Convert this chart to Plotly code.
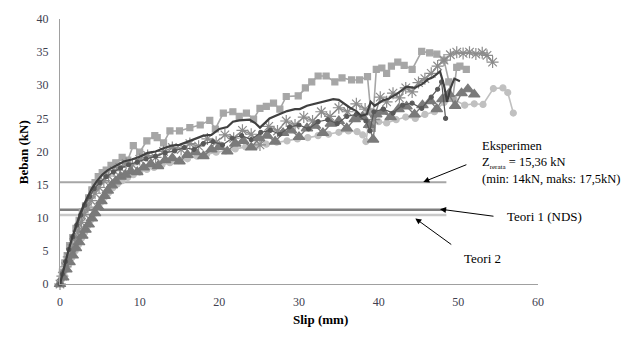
import plotly.graph_objects as go

# ---------------- data ----------------
sq_slip = [0, 0.3, 0.6, 0.9, 1.2, 1.6, 2.0, 2.4, 2.8, 3.2, 3.6, 4.0, 4.4, 4.8, 5.3, 5.8, 6.4, 7.0, 7.8, 8.5,
           9.2, 10.0, 10.9, 11.9, 12.2, 13.0, 13.8, 15.0, 16.3, 17.6, 18.8, 19.5, 20.5, 21.7, 22.5, 23.4, 24.3,
           25.1, 25.9, 26.8, 27.6, 28.4, 29.9, 30.8, 31.6, 32.4, 33.4, 34.5, 35.4, 36.6, 37.6, 38.6, 39.0, 39.2,
           39.7, 40.4, 41.0, 41.6, 42.4, 43.2, 44.2, 45.4, 46.4, 47.3, 48.2, 48.8, 49.3, 49.8, 50.2, 51.0]
sq_load = [0, 1.8, 3.2, 4.3, 5.8, 7.0, 8.4, 9.6, 10.9, 11.8, 13.0, 14.2, 15.3, 16.2, 16.8, 17.2, 17.9, 18.3, 19.1, 18.7,
           20.9, 19.9, 21.6, 22.4, 22.1, 21.3, 23.1, 23.1, 23.6, 24.0, 24.7, 23.4, 25.8, 26.0, 25.3, 25.8, 24.9,
           26.5, 26.8, 27.3, 26.4, 28.3, 28.4, 29.6, 30.5, 31.4, 31.4, 30.5, 31.1, 30.8, 30.8, 31.3, 26.0, 23.5,
           32.4, 32.6, 31.8, 32.9, 33.5, 33.0, 32.4, 35.1, 34.9, 34.7, 33.8, 30.5, 28.0, 32.7, 32.9, 32.4]

ast_slip = [0, 0.3, 0.7, 1.1, 1.5, 1.9, 2.3, 2.7, 3.1, 3.5, 3.9, 4.4, 4.9, 5.5, 6.1, 6.8, 7.5, 8.3, 9.1, 10.0,
            11.0, 12.0, 13.0, 14.1, 15.2, 16.3, 17.4, 18.5, 19.6, 20.7, 21.8, 22.9, 24.0, 25.1, 26.2, 27.3, 28.4,
            29.5, 30.6, 31.7, 32.8, 33.9, 35.0, 36.1, 37.2, 38.3, 39.4, 40.2, 41.0, 41.8, 42.6, 43.4, 44.2, 45.0,
            45.8, 46.6, 47.4, 48.2, 49.0, 49.8, 50.6, 51.4, 52.2, 53.0, 53.6, 54.3]
ast_load = [0, 1.2, 2.6, 4.1, 5.4, 6.8, 8.0, 9.3, 10.5, 11.6, 12.6, 13.7, 14.6, 15.6, 16.3, 17.1, 17.6, 18.2, 18.0, 18.8,
            19.4, 19.1, 20.0, 20.6, 20.3, 21.2, 20.8, 21.9, 21.4, 22.5, 22.0, 23.2, 22.6, 21.0, 23.8, 23.1, 24.6,
            24.0, 25.2, 24.6, 26.0, 25.3, 26.6, 26.0, 27.2, 26.4, 24.8, 28.2, 27.5, 28.8, 28.1, 29.6, 29.0, 30.4,
            31.0, 31.8, 32.9, 33.8, 34.6, 35.0, 34.8, 35.0, 34.7, 34.9, 34.5, 33.5]

dk_slip = [0, 0.5, 1.0, 1.5, 2.0, 2.5, 3.0, 3.5, 4.0, 4.6, 5.3, 6.0, 7.0, 8.0, 9.0, 10.0, 11.0, 12.0, 13.0, 14.0,
           15.0, 16.0, 17.0, 18.0, 19.0, 20.0, 21.0, 21.7, 22.5, 23.8, 24.5, 25.1, 25.8, 26.3, 27.3, 28.5, 29.5,
           30.1, 31.0, 32.2, 33.3, 34.3, 35.0, 35.5, 36.4, 37.2, 37.8, 38.5, 39.0, 39.5, 40.5, 41.3, 42.3, 43.5,
           44.5, 45.5, 46.2, 46.8, 47.7, 48.2, 48.6, 49.0, 49.5, 50.2]
dk_load = [0, 2.5, 4.8, 6.9, 8.8, 10.5, 12.0, 13.3, 14.4, 15.5, 16.5, 17.2, 17.9, 18.5, 18.8, 19.2, 19.8, 20.0, 20.5, 20.9,
           21.0, 21.5, 22.0, 22.4, 22.5, 23.4, 23.7, 24.5, 24.7, 24.8, 24.3, 23.6, 24.4, 25.0, 25.5, 26.1, 26.4,
           26.4, 26.9, 27.3, 27.6, 27.9, 27.8, 27.4, 26.6, 26.1, 25.4, 25.6, 27.5, 26.9, 27.7, 28.0, 28.7, 29.8,
           29.6, 30.2, 30.9, 31.2, 32.1, 30.0, 27.5, 29.5, 31.0, 30.6]

tri_slip = [0, 0.4, 0.8, 1.2, 1.6, 2.0, 2.4, 2.8, 3.2, 3.6, 4.0, 4.4, 4.8, 5.2, 5.6, 6.0, 6.5, 7.0, 7.6, 8.2,
            8.9, 9.7, 10.5, 11.4, 12.3, 13.2, 14.1, 15.0, 16.0, 17.0, 18.0, 19.0, 20.0, 21.0, 22.0, 23.0, 24.0,
            25.0, 26.0, 27.0, 28.0, 29.0, 30.0, 31.0, 32.0, 33.0, 34.0, 35.0, 36.0, 37.0, 38.0, 38.8, 39.3, 39.7,
            40.5, 41.5, 42.5, 43.5, 44.5, 45.5, 46.5, 47.3, 48.0, 48.8, 49.6, 50.4, 51.2, 52.0]
tri_load = [0, 1.0, 2.2, 3.3, 4.3, 5.4, 6.3, 7.3, 8.2, 9.0, 9.9, 10.7, 11.6, 12.5, 13.3, 14.1, 14.9, 15.5, 16.2, 16.5,
            17.0, 16.9, 17.6, 18.1, 17.8, 18.7, 19.0, 18.5, 19.5, 19.9, 19.3, 20.3, 20.7, 20.0, 21.2, 21.6, 20.6,
            22.0, 22.4, 21.5, 22.8, 23.2, 22.2, 23.5, 23.9, 22.8, 24.2, 24.6, 23.5, 24.9, 25.2, 24.0, 21.8, 25.6,
            26.0, 25.2, 26.4, 26.8, 25.6, 27.0, 27.6, 26.4, 27.9, 28.7, 26.9, 28.8, 29.4, 28.6]

lc_slip = [0, 0.2, 0.5, 0.8, 1.1, 1.5, 1.9, 2.3, 2.7, 3.1, 3.5, 3.9, 4.3, 4.7, 5.1, 5.6, 6.1, 6.6, 7.2, 7.8,
           8.5, 9.2, 10.0, 10.9, 11.8, 12.8, 13.8, 14.9, 16.0, 17.2, 18.4, 19.6, 20.8, 22.0, 23.3, 24.6, 25.9,
           27.2, 28.5, 29.8, 31.1, 32.4, 33.7, 35.0, 36.2, 37.3, 38.0, 38.4, 38.7, 39.2, 40.0, 41.0, 42.2, 43.4,
           44.6, 45.8, 47.0, 48.2, 49.5, 50.8, 52.0, 53.1, 54.4, 55.6, 56.2, 56.9]
lc_load = [0, 0.7, 1.4, 2.2, 3.0, 4.0, 5.0, 5.9, 6.9, 7.8, 8.8, 9.7, 10.6, 11.5, 12.3, 13.1, 13.8, 14.5, 15.1, 15.6,
           16.1, 16.5, 16.9, 17.3, 17.6, 18.0, 18.3, 18.6, 18.9, 19.3, 19.6, 19.9, 20.1, 20.4, 20.7, 20.8, 21.1,
           21.4, 21.6, 21.9, 22.1, 22.4, 22.6, 22.9, 23.1, 23.0, 22.5, 21.5, 23.8, 24.2, 24.5, 24.3, 24.8, 25.2,
           25.0, 25.6, 26.0, 27.4, 27.8, 27.0, 27.2, 27.1, 29.5, 29.6, 28.9, 25.8]

dd_slip = [0, 0.3, 0.7, 1.1, 1.6, 2.1, 2.6, 3.1, 3.7, 4.3, 5.0, 5.8, 6.7, 7.6, 8.6, 9.7, 10.8, 12.0, 13.2, 14.4,
           15.6, 16.8, 18.0, 19.2, 20.4, 21.6, 22.8, 24.0, 25.2, 26.4, 27.6, 28.8, 30.0, 31.2, 32.4, 33.6, 34.8,
           36.0, 37.2, 38.4, 38.9, 39.4, 40.6, 41.8, 43.0, 44.2, 45.4, 46.6, 47.4, 47.9, 48.4]
dd_load = [0, 1.5, 3.4, 5.2, 7.1, 8.9, 10.4, 11.9, 13.2, 14.4, 15.3, 16.2, 16.9, 17.5, 18.0, 18.4, 18.9, 19.3, 19.8, 20.1,
           20.6, 20.3, 21.2, 21.5, 21.0, 22.0, 22.4, 21.8, 22.9, 23.2, 22.6, 23.7, 24.0, 23.4, 24.5, 24.8, 24.2,
           25.3, 25.6, 24.6, 23.1, 26.0, 26.4, 25.8, 27.0, 27.3, 26.5, 28.2, 29.4, 30.5, 25.0]

ref_slip = [0, 48.5]
z_exp = 15.36
z_teori1 = 11.2
z_teori2 = 10.4

x_ticks = [0, 10, 20, 30, 40, 50, 60]
y_ticks = [0, 5, 10, 15, 20, 25, 30, 35, 40]

# ---------------- figure ----------------
fig = go.Figure()

for val, col, w in [(z_exp, "#a6a6a6", 2), (z_teori1, "#7f7f7f", 2.5), (z_teori2, "#c9c9c9", 2.5)]:
    fig.add_trace(go.Scatter(x=ref_slip, y=[val, val], mode="lines",
                             line=dict(color=col, width=w), hoverinfo="skip"))

series = [
    (lc_slip, lc_load, "#c0c0c0", "circle", 6, 1.6),
    (sq_slip, sq_load, "#a6a6a6", "square", 6, 1.6),
    (ast_slip, ast_load, "#8c8c8c", "asterisk-open", 10, 1.4),
    (tri_slip, tri_load, "#7a7a7a", "triangle-up", 10, 1.4),
    (dd_slip, dd_load, "#595959", "circle", 4, 1.2),
]
for xs, ys, col, sym, ms, lw in series:
    fig.add_trace(go.Scatter(x=xs, y=ys, mode="lines+markers", cliponaxis=False,
                             line=dict(color=col, width=lw),
                             marker=dict(symbol=sym, size=ms, color=col,
                                         line=dict(color=col, width=1.2))))

fig.add_trace(go.Scatter(x=dk_slip, y=dk_load, mode="lines", cliponaxis=False,
                         line=dict(color="#404040", width=2.2)))

serif = "Liberation Serif, Times New Roman, Tinos, serif"
fig.update_layout(
    width=630, height=344,
    margin=dict(l=60, r=92, t=14, b=60),
    paper_bgcolor="white", plot_bgcolor="white",
    showlegend=False,
    font=dict(family=serif, size=12, color="#404040"),
    xaxis=dict(range=[0, 60], tickvals=x_ticks, showgrid=False, zeroline=False,
               showline=True, linecolor="#a0a0a0", linewidth=1,
               ticks="outside", ticklen=7, tickcolor="rgba(0,0,0,0)",
               tickfont=dict(family=serif, size=12, color="#404050")),
    yaxis=dict(range=[0, 40], tickvals=y_ticks, showgrid=False, zeroline=False,
               showline=True, linecolor="#a0a0a0", linewidth=1,
               ticks="outside", ticklen=8, tickcolor="rgba(0,0,0,0)",
               tickfont=dict(family=serif, size=12, color="#404050")),
)

# axis titles
fig.add_annotation(xref="paper", yref="paper", x=0.546, y=-0.17, text="<b>Slip (mm)</b>",
                   showarrow=False, font=dict(family=serif, size=13, color="#000000"))
fig.add_annotation(xref="paper", yref="paper", x=-0.096, y=0.496, text="<b>Beban (kN)</b>",
                   textangle=-90, showarrow=False, font=dict(family=serif, size=13, color="#000000"))

# labels
lbl_font = dict(family=serif, size=13, color="#000000")
fig.add_annotation(x=52.7, y=18.4, xref="x", yref="y", xanchor="left", yanchor="middle", align="left",
                   text="Eksperimen<br>Z<sub><span style='font-size:7px'>rerata</span></sub> = 15,36 kN"
                        "<br>(min: 14kN, maks: 17,5kN)",
                   showarrow=False, font=dict(family=serif, size=12.5, color="#000000"))
fig.add_annotation(x=55.9, y=10.2, xref="x", yref="y", xanchor="left", yanchor="middle",
                   text="Teori 1 (NDS)", showarrow=False, font=lbl_font)
fig.add_annotation(x=50.5, y=3.9, xref="x", yref="y", xanchor="left", yanchor="middle",
                   text="Teori 2", showarrow=False, font=lbl_font)

# arrows
for (hx, hy, tx, ty) in [(45.6, 15.4, 51.2, 18.1), (47.7, 11.3, 54.6, 10.2), (44.6, 9.9, 49.3, 5.8)]:
    fig.add_annotation(x=hx, y=hy, ax=tx, ay=ty, xref="x", yref="y", axref="x", ayref="y",
                       text="", showarrow=True, arrowhead=2, arrowsize=1.2, arrowwidth=1,
                       arrowcolor="#000000")

fig.write_html("out.html", config={"displayModeBar": False},
               post_script="document.body.style.margin='0';")
